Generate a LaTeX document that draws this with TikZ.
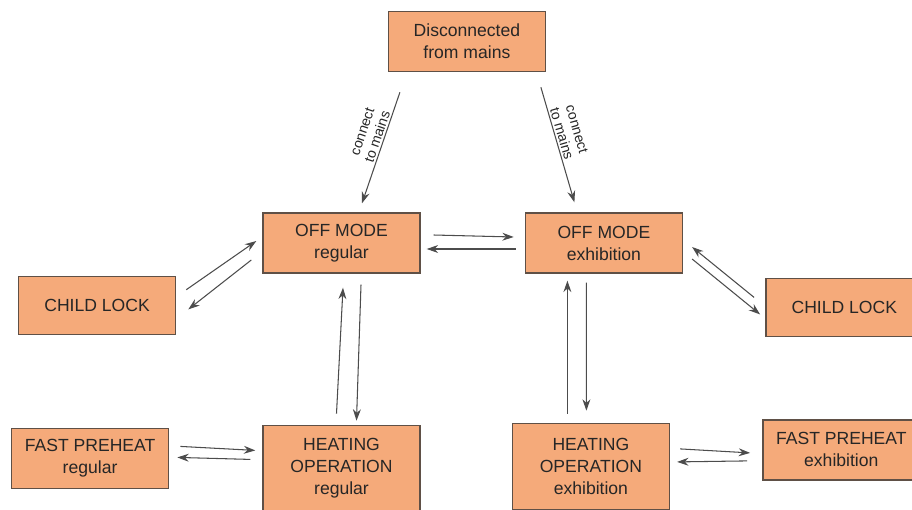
\documentclass[tikz,border=0pt]{standalone}
\usepackage{fontspec}
\setmainfont{Liberation Sans}
\usepackage{xcolor}
\usetikzlibrary{positioning,calc,arrows.meta}
\definecolor{boxfill}{RGB}{245,170,122}
\definecolor{boxline}{RGB}{95,80,70}

\begin{document}
\begin{tikzpicture}[->,>={Stealth[length=6.5pt,width=4.5pt]},line width=0.6pt,
	statebox/.style={draw=boxline,line width=0.8pt,fill=boxfill,align=center,minimum width=3.14cm,minimum height=1.2cm,inner sep=2pt,font=\fontsize{10}{12.5}\selectfont,text=black!85},
	heatbox/.style={statebox,minimum height=1.72cm},
	trans/.style={color=black!70},
	lbl/.style={font=\fontsize{8}{9}\selectfont,sloped,above,pos=0.42,inner sep=1pt,align=center,text=black!85}]
		\useasboundingbox (-6.83,4.86) rectangle (11.41,-5.32);
		\clip (-6.83,4.86) rectangle (11.41,-5.32);

		\node[statebox] (offreg) {OFF MODE\\regular};
		\node[statebox] (offexh) [right=2.08cm of offreg] {OFF MODE\\exhibition};
		\node[statebox] (disc) [above right=2.8cm and -0.66cm of offreg] {Disconnected\\from mains};
		\node[statebox,minimum height=1.16cm] (lockL) [below left=0.04cm and 1.72cm of offreg] {CHILD LOCK};
		\node[statebox,minimum height=1.16cm] (lockR) [below right=0.08cm and 1.64cm of offexh] {CHILD LOCK};
		\node[heatbox] (heatR) [below=3.02cm of offreg] {HEATING\\OPERATION\\regular};
		\node[heatbox] (heatE) [below=2.98cm of offexh,xshift=-0.26cm] {HEATING\\OPERATION\\exhibition};
		\node[statebox] (fastR) [left=1.86cm of heatR,yshift=0.2cm] {FAST PREHEAT\\regular};
		\node[statebox] (fastE) [right=1.84cm of heatE,yshift=0.33cm] {FAST PREHEAT\\exhibition};

		\path[trans]
			($(disc.south)+(-1.34,-0.4)$) edge node[lbl]{connect\\to mains} ($(offreg.north)+(0.41,0.18)$)
			($(disc.south)+(1.48,-0.3)$) edge node[lbl]{connect\\to mains} ($(offexh.north)+(-0.59,0.2)$)
			($(offreg.east)+(0.26,0.16)$) edge ($(offexh.west)+(-0.22,0.12)$)
			($(offexh.west)+(-0.18,-0.12)$) edge ($(offreg.east)+(0.12,-0.12)$)
			($(lockL.north east)+(0.2,-0.28)$) edge ($(offreg.west)+(-0.12,0.04)$)
			($(offreg.west)+(-0.22,-0.34)$) edge ($(lockL.east)+(0.24,-0.08)$)
			($(lockR.west)+(-0.22,0.2)$) edge ($(offexh.east)+(0.18,-0.08)$)
			($(offexh.east)+(0.18,-0.32)$) edge ($(lockR.west)+(-0.1,-0.14)$)
			($(heatR.north)+(-0.1,0.22)$) edge ($(offreg.south)+(0.03,-0.28)$)
			($(offreg.south)+(0.39,-0.22)$) edge ($(heatR.north)+(0.3,0.08)$)
			($(heatE.north)+(-0.47,0.18)$) edge ($(offexh.south)+(-0.73,-0.14)$)
			($(offexh.south)+(-0.35,-0.18)$) edge ($(heatE.north)+(-0.09,0.24)$)
			($(fastR.east)+(0.22,0.24)$) edge ($(heatR.west)+(-0.14,0.36)$)
			($(heatR.west)+(-0.24,0.18)$) edge ($(fastR.east)+(0.16,0.02)$)
			($(heatE.east)+(0.2,0.35)$) edge ($(fastE.west)+(-0.24,-0.06)$)
			($(fastE.west)+(-0.3,-0.22)$) edge ($(heatE.east)+(0.14,0.09)$);
	\end{tikzpicture}
\end{document}
